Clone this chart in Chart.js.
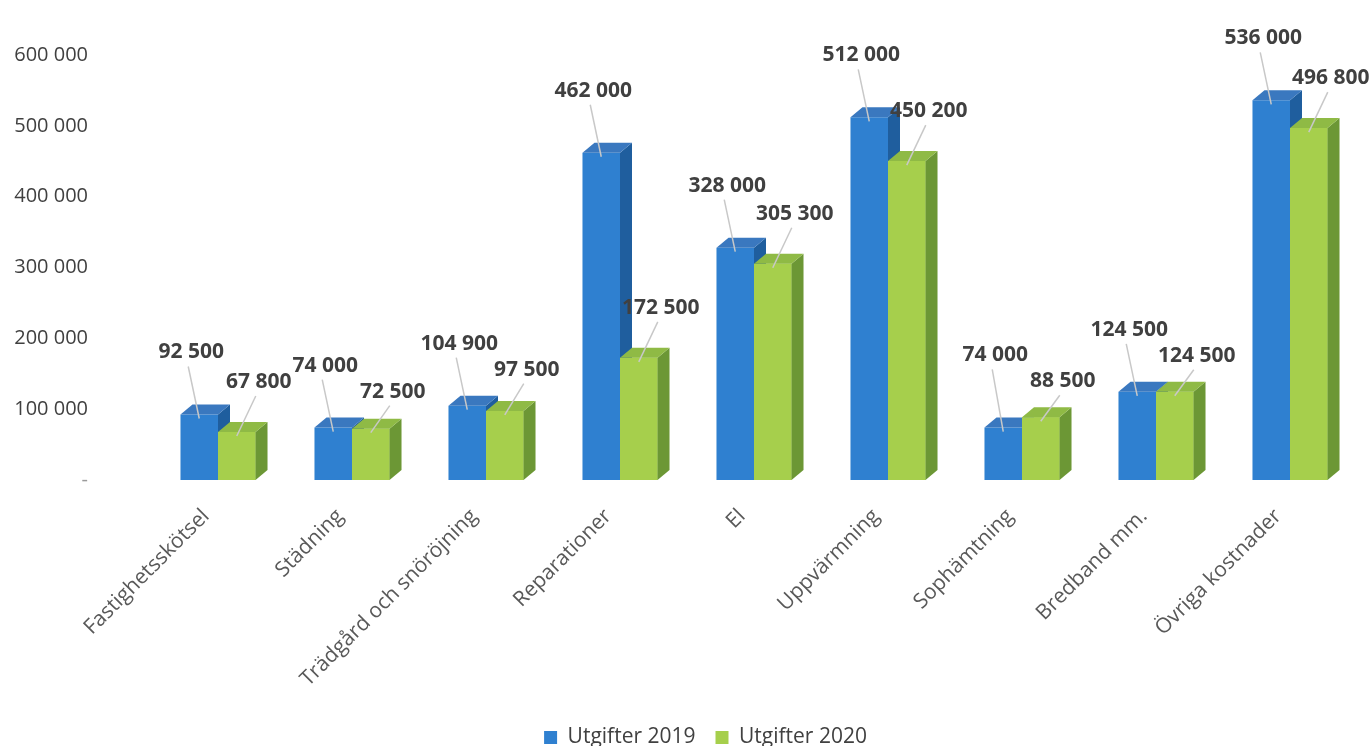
<!DOCTYPE html>
<html>
<head>
<meta charset="utf-8">
<script src="https://cdn.jsdelivr.net/npm/chart.js@4"></script>
<style>
  html, body { margin: 0; padding: 0; background: #fff; }
  #wrap { width: 1370px; height: 746px; }
</style>
</head>
<body>
<div id="wrap"><canvas id="chart" width="1370" height="746"></canvas></div>
<script>
const categories = [
  "Fastighetsskötsel", "Städning", "Trädgård och snöröjning", "Reparationer",
  "El", "Uppvärmning", "Sophämtning", "Bredband mm.", "Övriga kostnader"
];
const utgifter2019 = [92500, 74000, 104900, 462000, 328000, 512000, 74000, 124500, 536000];
const utgifter2020 = [67800, 72500, 97500, 172500, 305300, 450200, 88500, 124500, 496800];
const yTicks = [0, 100000, 200000, 300000, 400000, 500000, 600000];

const fmt = (v) => v.toString().replace(/\B(?=(\d{3})+(?!\d))/g, " ");

// side/top faces of the 3D bars
const depthX = 12, depthY = 10;
const faces = [
  { side: "#1f5e9e", top: "#3a78bf" },
  { side: "#6c9735", top: "#8fba45" }
];

function drawFaces(ctx, bars, c) {
  bars.forEach((bar) => {
    const p = bar.getProps(["x", "y", "base", "width"], true);
    const l = p.x - p.width / 2, r = p.x + p.width / 2;
    ctx.fillStyle = c.side;
    ctx.beginPath();
    ctx.moveTo(r, p.y);
    ctx.lineTo(r + depthX, p.y - depthY);
    ctx.lineTo(r + depthX, p.base - depthY);
    ctx.lineTo(r, p.base);
    ctx.closePath();
    ctx.fill();
    ctx.fillStyle = c.top;
    ctx.beginPath();
    ctx.moveTo(l, p.y);
    ctx.lineTo(l + depthX, p.y - depthY);
    ctx.lineTo(r + depthX, p.y - depthY);
    ctx.lineTo(r, p.y);
    ctx.closePath();
    ctx.fill();
  });
}

const bars3d = {
  id: "bars3d",
  afterLayout(chart) {
    // legend sits a bit right of centre in the original
    chart.legend.left += 27;
    chart.legend.right += 27;
  },
  afterDatasetsDraw(chart) {
    const ctx = chart.ctx;
    ctx.save();
    // blue faces first, then the green bars are drawn again on top of them
    drawFaces(ctx, chart.getDatasetMeta(0).data, faces[0]);
    chart.getDatasetMeta(1).data.forEach((bar) => bar.draw(ctx));
    drawFaces(ctx, chart.getDatasetMeta(1).data, faces[1]);
    ctx.restore();
  }
};

const valueLabels = {
  id: "valueLabels",
  afterDatasetsDraw(chart) {
    const ctx = chart.ctx;
    const blue = chart.getDatasetMeta(0).data;
    const green = chart.getDatasetMeta(1).data;
    ctx.save();
    ctx.font = "bold 21px 'Open Sans'";
    ctx.fillStyle = "#404040";
    ctx.textAlign = "center";
    ctx.textBaseline = "middle";
    ctx.strokeStyle = "#c8c8c8";
    ctx.lineWidth = 1.5;
    blue.forEach((b, j) => {
      const g = green[j];
      const by = Math.max(Math.min(b.y, g.y) - 62, 30);
      const gy = Math.max(by + 26, g.y - 50);
      const pts = [
        { bar: b, x: b.x - 8, y: by, v: utgifter2019[j] },
        { bar: g, x: g.x + 22, y: gy, v: utgifter2020[j] }
      ];
      pts.forEach((p) => {
        ctx.beginPath();
        ctx.moveTo(p.x - 3, p.y + 14);
        ctx.lineTo(p.bar.x, p.bar.y + 4);
        ctx.stroke();
      });
      pts.forEach((p) => ctx.fillText(fmt(p.v), p.x, p.y));
    });
    ctx.restore();
  }
};

new Chart(document.getElementById("chart"), {
  type: "bar",
  data: {
    labels: categories,
    datasets: [
      { label: "Utgifter 2019", data: utgifter2019, backgroundColor: "#2f80d0" },
      { label: "Utgifter 2020", data: utgifter2020, backgroundColor: "#a6cf4c" }
    ]
  },
  options: {
    responsive: false,
    animation: false,
    layout: { padding: { top: 55, right: 13, bottom: -12, left: 0 } },
    datasets: {
      bar: { categoryPercentage: 0.56, barPercentage: 1.0 }
    },
    scales: {
      x: {
        grid: { display: false },
        border: { display: false },
        ticks: {
          color: "#595959",
          font: { family: "'Open Sans'", size: 21 },
          minRotation: 45,
          maxRotation: 45,
          padding: 16,
          labelOffset: -12
        },
        afterFit(scale) { scale.height = 227; }
      },
      y: {
        min: 0,
        max: 600000,
        afterBuildTicks(scale) { scale.ticks = yTicks.map((v) => ({ value: v })); },
        grid: { display: false, drawTicks: false },
        border: { display: false },
        ticks: {
          color: (c) => (c.tick && c.tick.value === 0 ? "#9a9a9a" : "#404040"),
          font: { family: "'Open Sans'", size: 20 },
          padding: 63,
          callback: (v) => (v === 0 ? "-" : fmt(v))
        },
        afterFit(scale) {
          scale.width = 151;
          scale.paddingTop = 12;
          scale.paddingBottom = 12;
        }
      }
    },
    plugins: {
      tooltip: { enabled: false },
      legend: {
        position: "bottom",
        labels: {
          color: "#404040",
          font: { family: "'Open Sans'", size: 21 },
          boxWidth: 13,
          boxHeight: 13,
          padding: 20
        }
      }
    }
  },
  plugins: [bars3d, valueLabels]
});
</script>
</body>
</html>
